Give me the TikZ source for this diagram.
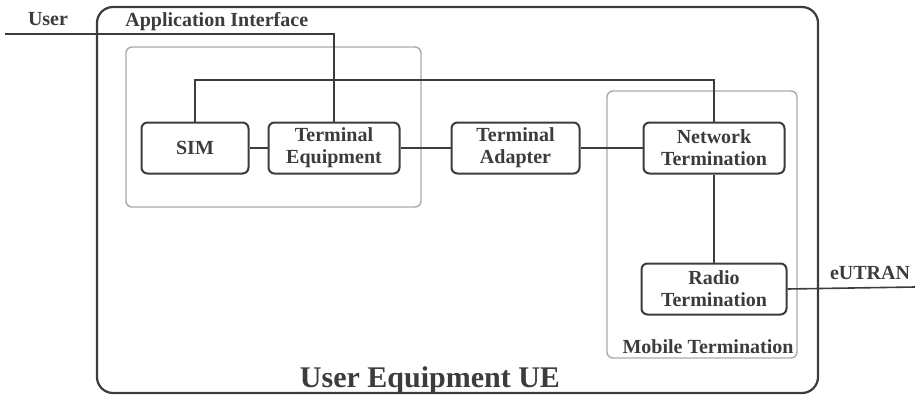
\documentclass[tikz,border=0pt]{standalone}
\usepackage{fontspec}
\setmainfont{Liberation Serif}
\usepackage{tikz}
\usetikzlibrary{positioning, calc}
\definecolor{inkgray}{RGB}{60, 60, 60}
\definecolor{framegray}{RGB}{170, 170, 170}
\tikzset{
  font=\fontsize{10}{11}\selectfont\bfseries,
  unitbox/.style={
    rectangle, rounded corners=3pt, draw=inkgray, line width=1pt,
    text=inkgray, minimum height=25.5pt, inner sep=0pt, align=center
  },
  groupframe/.style={draw=framegray, line width=0.7pt, rounded corners=3pt},
  ueframe/.style={draw=inkgray, line width=1.1pt, rounded corners=8pt},
  link/.style={draw=inkgray, line width=0.8pt},
  tag/.style={text=inkgray, inner sep=0pt}
}
\begin{document}
\begin{tikzpicture}[x=0.5pt, y=-0.5pt]
  \useasboundingbox (0,0) rectangle (915,396);

  % Outer UE frame and the two groups
  \draw[ueframe] (97,7) rectangle (818,393);
  \draw[groupframe] (126,47) rectangle (421,207);
  \draw[groupframe] (607,91) rectangle (797,358);

  % Functional units
  \node[unitbox, minimum width=53.5pt] (sim) at (195,148) {SIM};
  \node[unitbox, right=9pt of sim, minimum width=65.5pt] (te) {Terminal\\Equipment};
  \node[unitbox, right=25pt of te, minimum width=64pt] (ta) {Terminal\\Adapter};
  \node[unitbox, right=31pt of ta, minimum width=70.5pt] (nt) {Network\\Termination};
  \node[unitbox, below=44pt of nt, minimum width=72.5pt] (rt) {Radio\\Termination};

  % Labels
  \node[tag] (userlbl) at (48,19) {User};
  \node[tag, anchor=west] (appifc) at (125,22) {Application Interface};
  \node[tag] (eutranlbl) at (870,273) {eUTRAN};
  \node[tag] (mtlbl) at (708,347) {Mobile Termination};
  \node[tag, anchor=base, font=\fontsize{15}{18}\selectfont\bfseries] (uelbl) at (430,387) {User Equipment UE};

  % Free ends and bus level
  \coordinate (userend) at (5,34);
  \coordinate (airend) at (915,287);
  \coordinate (bus) at (0,80);

  % Connecting lines
  \draw[link] (userend) -| (te.north);
  \draw[link] (sim.north) -- (sim.north |- bus) -| (nt.north);
  \draw[link] (sim) -- (te);
  \draw[link] (te) -- (ta);
  \draw[link] (ta) -- (nt);
  \draw[link] (nt) -- (rt);
  \draw[link] (rt.east) -- (airend);

\end{tikzpicture}
\end{document}
